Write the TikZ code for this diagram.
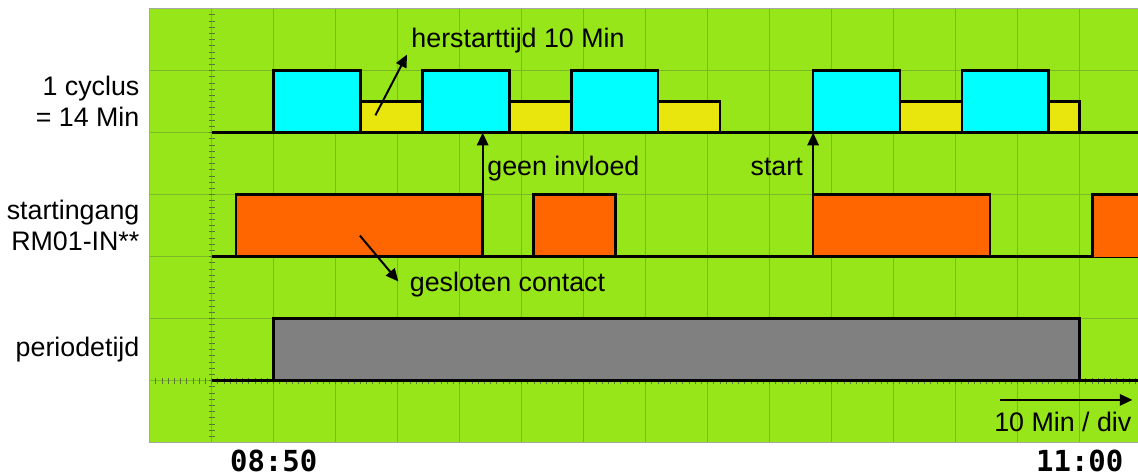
\documentclass[tikz,border=0pt]{standalone}
\usepackage{fontspec}
\setmainfont{Liberation Sans}
\newfontfamily\clockfont{DejaVu Sans Mono}
\usetikzlibrary{arrows.meta}
\definecolor{scopegreen}{RGB}{150,230,26}
\definecolor{gridgreen}{RGB}{122,184,40}
\definecolor{tickgreen}{RGB}{90,120,50}
\definecolor{pulsecyan}{RGB}{0,255,255}
\definecolor{pulseyellow}{RGB}{232,230,12}
\definecolor{pulseorange}{RGB}{255,102,0}
\definecolor{pulsegray}{RGB}{128,128,128}

\begin{document}
\begin{tikzpicture}
        \tikzstyle{every node}=[font=\fontsize{12.3}{14.3}\selectfont, text=black, inner sep=0pt]
        \tikzstyle{signal}=[black, line width=1.2pt]
        \tikzstyle{pulse}=[draw=black, line width=1.2pt]
        \tikzstyle{pointer}=[black, line width=0.9pt, -{Triangle[length=5.8pt, width=5.2pt]}]

        \useasboundingbox (-2.415,-0.537) rectangle (15.94,7.14);

        \fill[scopegreen] (0,0) rectangle (15.94,7);
        \foreach \x in {1,...,15} \draw[gridgreen, line width=0.5pt] (\x,0) -- (\x,7);
        \foreach \y in {1,...,6} \draw[gridgreen, line width=0.5pt] (0,\y) -- (15.94,\y);
        \foreach \i in {0,...,70} \draw[tickgreen, line width=0.4pt] (0.95,\i/10) -- (1.05,\i/10);
        \foreach \i in {0,...,159} \draw[tickgreen, line width=0.4pt] (\i/10,0.95) -- (\i/10,1.05);
        \draw[gray!70, line width=0.5pt] (15.94,7) -- (0,7) -- (0,0) -- (15.94,0);

        \node[anchor=east, align=right] (cyclus) at (-0.16,5.5) {1 cyclus\\= 14 Min};
        \node[anchor=east, align=right] (ingang) at (-0.16,3.5) {startingang\\RM01-IN**};
        \node[anchor=east] (periode) at (-0.16,1.5) {periodetijd};

        \draw[signal] (1,5) -- (15.94,5);
        \draw[pulse, fill=pulseyellow] (3.4,5) rectangle (4.4,5.5);
        \draw[pulse, fill=pulseyellow] (5.8,5) rectangle (6.8,5.5);
        \draw[pulse, fill=pulseyellow] (8.2,5) rectangle (9.2,5.5);
        \draw[pulse, fill=pulseyellow] (12.1,5) rectangle (13.1,5.5);
        \draw[pulse, fill=pulseyellow] (14.5,5) rectangle (15,5.5);
        \draw[pulse, fill=pulsecyan] (2,5) rectangle (3.4,6);
        \draw[pulse, fill=pulsecyan] (4.4,5) rectangle (5.8,6);
        \draw[pulse, fill=pulsecyan] (6.8,5) rectangle (8.2,6);
        \draw[pulse, fill=pulsecyan] (10.7,5) rectangle (12.1,6);
        \draw[pulse, fill=pulsecyan] (13.1,5) rectangle (14.5,6);

        \draw[signal] (1,3) -- (15.94,3);
        \draw[pulse, fill=pulseorange] (1.39,3) rectangle (5.37,4);
        \draw[pulse, fill=pulseorange] (6.19,3) rectangle (7.51,4);
        \draw[pulse, fill=pulseorange] (10.7,3) rectangle (13.55,4);
        \fill[pulseorange] (15.21,3) rectangle (15.94,4);
        \draw[signal] (15.94,4) -- (15.21,4) -- (15.21,3);

        \draw[signal] (1,1) -- (15.94,1);
        \draw[pulse, fill=pulsegray] (2,1) rectangle (15,2);

        \coordinate (geenfoot) at (5.37,4);
        \coordinate (geentip)  at (5.37,5);
        \coordinate (startfoot) at (10.7,4);
        \coordinate (starttip)  at (10.7,5);
        \coordinate (herfoot) at (3.64,5.28);
        \coordinate (hertip)  at (4.15,6.26);
        \coordinate (gesfoot) at (3.39,3.34);
        \coordinate (gestip)  at (4.01,2.60);
        \coordinate (divfoot) at (13.71,0.69);
        \coordinate (divtip)  at (15.85,0.69);

        \draw[pointer] (geenfoot) -- (geentip);
        \draw[pointer] (startfoot) -- (starttip);
        \draw[pointer] (herfoot) -- (hertip);
        \draw[pointer] (gesfoot) -- (gestip);
        \draw[pointer] (divfoot) -- (divtip);

        \node[anchor=base west] (geen) at (5.44,4.31) {geen invloed};
        \node[anchor=base east] (start) at (10.54,4.31) {start};
        \node[anchor=base west] (herstart) at (4.215,6.377) {herstarttijd 10 Min};
        \node[anchor=base west] (gesloten) at (4.19,2.436) {gesloten contact};
        \node[anchor=base east] (perdiv) at (15.84,0.177) {10 Min / div};

        \node[anchor=base, font=\clockfont\bfseries\fontsize{13.3}{15}\selectfont] (begin) at (2,-0.468) {08:50};
        \node[anchor=base, font=\clockfont\bfseries\fontsize{13.3}{15}\selectfont] (end) at (15,-0.468) {11:00};
\end{tikzpicture}
\end{document}
